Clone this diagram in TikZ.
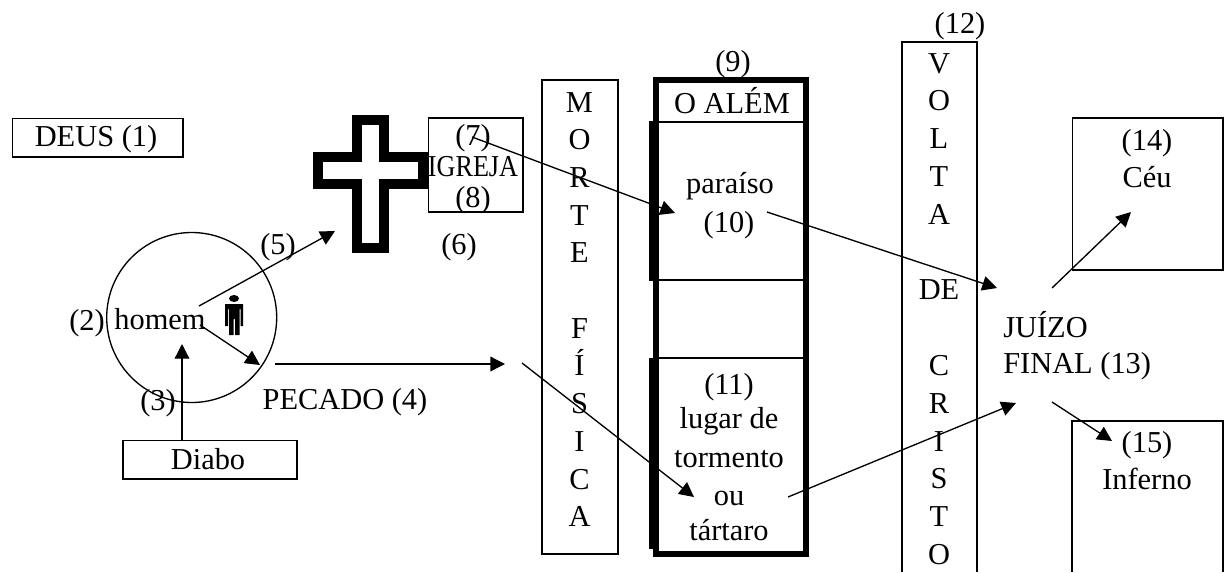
\documentclass[tikz,border=0pt]{standalone}
\usepackage{fontspec}
\setmainfont{Liberation Serif}
\usetikzlibrary{arrows.meta}
\tikzset{
	caixa/.style={draw,line width=1pt,inner sep=0pt,outer sep=0pt,fill=white},
	rotulo/.style={anchor=base,inner sep=0pt,font=\fontsize{22.8}{26}\selectfont},
	seta/.style={line width=1pt,-{Triangle[length=11pt,width=11pt]}},
	linha/.style={line width=1pt},
	grossa/.style={line width=4.5pt}
}
\begin{document}
\begin{tikzpicture}[x=0.75pt,y=-0.75pt]
	\useasboundingbox (0,0) rectangle (1231,572);
\fill[white] (0,0) rectangle (1231,572);
\node[caixa,minimum width=128pt,minimum height=29pt] (deus) at (97.5,137.5) {};
\node[rotulo] (deusT) at (96,146) {DEUS (1)};
\draw[linha] (191.7,317.5) circle [radius=85];
\draw[line width=7.5pt,fill=white,miter limit=10] (357,120)--(384,120)--(384,157)--(423,157)--(423,184)--(384,184)--(384,248)--(357,248)--(357,184)--(318,184)--(318,157)--(357,157)--cycle;
\node[caixa,minimum width=71pt,minimum height=70.5pt] (igreja) at (475.5,165) {};
\node[rotulo] (n7) at (473,145) {(7)};
\node[rotulo] (igrejaT) at (473,176) {\scalebox{0.86}[1]{IGREJA}};
\node[rotulo] (n8) at (473,207) {(8)};
\node[rotulo] (n2) at (87,330) {(2)};
\node[rotulo] (homem) at (160,329) {homem};
\node[rotulo] (n3) at (158,410) {(3)};
\node[rotulo] (pecado) at (345,409) {PECADO (4)};
\node[rotulo] (n5) at (278,254) {(5)};
\node[rotulo] (n6) at (459,254) {(6)};
\node[caixa,minimum width=130.5pt,minimum height=29pt] (diabo) at (210,459.5) {};
\node[rotulo] (diaboT) at (208,469) {Diabo};
\fill (234,298.5) ellipse [x radius=5,y radius=3.5];
\fill (225,304)--(243,304)--(243,326)--(240.5,326)--(240.5,309)--(239.5,309)--(239.5,335)--(235,335)--(235,319)--(233.5,319)--(233.5,335)--(229,335)--(229,309)--(228,309)--(228,326)--(225,326)--cycle;
\node[caixa,minimum width=57pt,minimum height=355.5pt] (morte) at (580,317) {};
\foreach \l/\i in {M/1,O/2,R/3,T/4,E/5,F/7,Í/8,S/9,I/10,C/11,A/12}
	\node[rotulo] (morte\i) at (579.5,{74.3+37.7*\i}) {\l};
\draw[grossa] (656,80) rectangle (806,554);
\fill (649,121) rectangle (657,281);
\fill (649,358) rectangle (657,549);
\draw[linha] (657,122)--(803,122);
\draw[linha] (657,280)--(803,280);
\draw[linha] (657,358)--(803,358);
\node[rotulo] (n9) at (733,71) {(9)};
\node[rotulo] (alem) at (732,113) {O ALÉM};
\node[rotulo] (paraiso) at (730,193) {paraíso};
\node[rotulo] (n10) at (729,232) {(10)};
\node[rotulo] (n11) at (729,394) {(11)};
\node[rotulo] (lugar) at (729,428) {lugar de};
\node[rotulo] (tormento) at (729,467) {tormento};
\node[rotulo] (ou) at (729,505) {ou};
\node[rotulo] (tartaro) at (729,540) {tártaro};
\draw[linha] (902,572)--(902,42)--(977,42)--(977,572);
\foreach \l/\i in {V/0,O/1,L/2,T/3,A/4,DE/6,C/8,R/9,I/10,S/11,T/12,O/13}
	\node[rotulo] (volta\i) at (939,{73+37.8*\i}) {\l};
\node[rotulo] (n12) at (960,33) {(12)};
\node[caixa,minimum width=113pt,minimum height=114pt] (ceu) at (1147.5,194) {};
\node[rotulo] (n14) at (1147,150) {(14)};
\node[rotulo] (ceuT) at (1147,187) {Céu};
\draw[linha] (1072,572)--(1072,421)--(1223,421)--(1223,572);
\node[rotulo] (n15) at (1147,452) {(15)};
\node[rotulo] (inferno) at (1147,489) {Inferno};
\node[rotulo,anchor=base west] (juizo) at (1003,337) {JUÍZO};
\node[rotulo,anchor=base west] (final) at (1003,373) {FINAL (13)};
\coordinate (a1) at (182,440);
\coordinate (a2) at (182,344);
\coordinate (b1) at (199,306);
\coordinate (b2) at (335,231);
\coordinate (c1) at (200,325);
\coordinate (c2) at (260,365);
\coordinate (d1) at (275,364);
\coordinate (d2) at (505,364);
\coordinate (e1) at (522,363);
\coordinate (e2) at (694,497);
\coordinate (f1) at (472,137);
\coordinate (f2) at (675,213);
\coordinate (g1) at (767,212);
\coordinate (g2) at (997,288);
\coordinate (h1) at (788,497);
\coordinate (h2) at (1016,403);
\coordinate (i1) at (1052,288);
\coordinate (i2) at (1131,212);
\coordinate (j1) at (1052,402);
\coordinate (j2) at (1112,441);
\draw[seta] (a1)--(a2);
\draw[seta] (b1)--(b2);
\draw[seta] (c1)--(c2);
\draw[seta] (d1)--(d2);
\draw[seta] (e1)--(e2);
\draw[seta] (f1)--(f2);
\draw[seta] (g1)--(g2);
\draw[seta] (h1)--(h2);
\draw[seta] (i1)--(i2);
\draw[seta] (j1)--(j2);
	\end{tikzpicture}
\end{document}
